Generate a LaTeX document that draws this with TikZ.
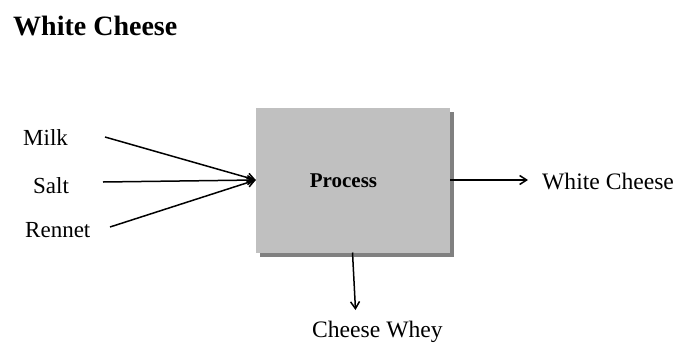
\documentclass[tikz,border=0pt]{standalone}
\usepackage{fontspec}
\setmainfont{Liberation Serif}
\usetikzlibrary{arrows.meta,shadows}
\definecolor{boxfill}{HTML}{C0C0C0}
\definecolor{boxshade}{HTML}{808080}
\begin{document}
\begin{tikzpicture}[x=1pt,y=-1pt,
  lbl/.style={inner sep=0pt,anchor=base west,font=\fontsize{23}{25}\selectfont},
  outlbl/.style={lbl,font=\fontsize{23.6}{26}\selectfont},
  flow/.style={-{Straight Barb[length=7pt,width=9pt]},line width=1.5pt},
  procbox/.style={fill=boxfill,draw=none,minimum width=194pt,minimum height=145pt,
    inner sep=0pt,drop shadow={shadow xshift=4pt,shadow yshift=-4pt,fill=boxshade,opacity=1}}]
\useasboundingbox (0,0) rectangle (677,343);
% title
\node[inner sep=0pt,anchor=base west,font=\bfseries\fontsize{28}{31}\selectfont] (title) at (13,35) {White Cheese};
% process block
\node[procbox] (proc) at (353,180) {};
\node[inner sep=0pt,anchor=base,font=\bfseries\fontsize{21}{24}\selectfont] (ptext) at (343.5,187) {Process};
% inputs
\node[lbl] (milk) at (23,145) {Milk};
\node[lbl] (salt) at (33,193) {Salt};
\node[lbl] (rennet) at (25,237) {Rennet};
\coordinate (milkstart) at (105,137);
\coordinate (saltstart) at (103,182);
\coordinate (rennetstart) at (110,227);
\draw[flow] (milkstart) -- (proc.west);
\draw[flow] (saltstart) -- (proc.west);
\draw[flow] (rennetstart) -- (proc.west);
% outputs
\node[outlbl] (product) at (542,189) {White Cheese};
\coordinate (productend) at (528,180);
\draw[flow] (proc.east) -- (productend);
\node[outlbl] (whey) at (312,337) {Cheese Whey};
\coordinate (wheytop) at (352.5,252.5);
\coordinate (wheyend) at (355.5,310);
\draw[flow] (wheytop) -- (wheyend);
\end{tikzpicture}
\end{document}
